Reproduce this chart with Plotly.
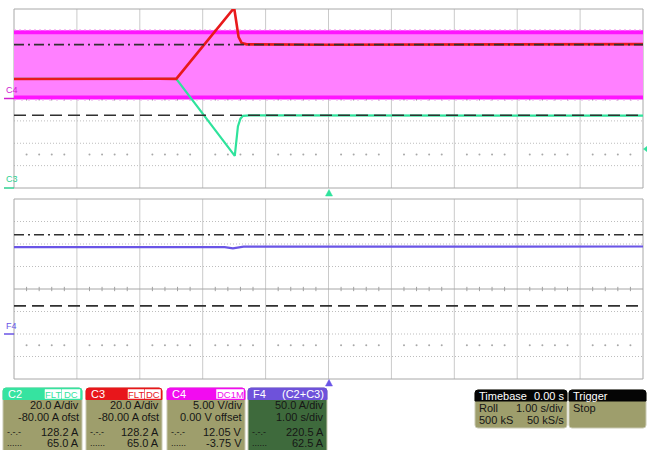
import plotly.graph_objects as go

W, H = 647, 450

# ---------------- data ----------------
# time in seconds (1 s/div, 10 divisions)
t_c3 = [0.0, 0.6, 1.2, 1.8, 2.3, 2.58, 3.50, 3.53, 3.57, 3.62, 3.70, 5.0, 6.5, 8.0, 9.0, 10.0]
c3_amps = [97.4, 97.6, 97.3, 97.5, 97.6, 97.5, 161.0, 150.0, 135.0, 129.5, 128.4, 128.1, 128.3, 128.5, 128.6, 128.6]

t_c2 = [0.0, 2.58, 3.51, 3.54, 3.56, 3.60, 3.64, 3.75, 5.0, 7.0, 10.0]
c2_amps = [97.5, 97.5, 28.7, 45.0, 55.0, 62.0, 64.5, 64.9, 64.9, 64.8, 64.7]

t_c4 = [0.0, 10.0]
c4_high_v = [14.8, 14.8]
c4_low_v = [0.2, 0.2]

t_f4 = [0.0, 1.5, 3.0, 3.35, 3.48, 3.55, 3.65, 4.5, 7.0, 10.0]
f4_amps = [193.0, 193.2, 193.4, 193.0, 190.5, 192.0, 194.0, 194.2, 194.3, 194.4]

cursor_top = {"C2/C3": (128.2, 65.0), "C4": (12.05, -3.75)}
cursor_bottom = (220.5, 62.5)

boxes = [
    # name, header colour, tags, rows
    ("C2", "#36E3A0", ["FLT", "DC"], ["20.0 A/div", "-80.00 A ofst", "128.2 A", "65.0 A"]),
    ("C3", "#E8161B", ["FLT", "DC"], ["20.0 A/div", "-80.00 A ofst", "128.2 A", "65.0 A"]),
    ("C4", "#F20CF0", ["DC1M"], ["5.00 V/div", "0.00 V offset", "12.05 V", "-3.75 V"]),
    ("F4", "#6E52DA", ["(C2+C3)"], ["50.0 A/div", "1.00 s/div", "220.5 A", "62.5 A"]),
]
timebase_rows = [("Timebase", "0.00 s"), ("Roll", "1.00 s/div"), ("500 kS", "50 kS/s")]
trigger_rows = ["Trigger", "Stop"]

# ---------------- helpers ----------------
def PX(x):
    return x / W

def PY(y):
    return 1 - y / H

FONT = "Liberation Sans, Arial, sans-serif"

X0, X1 = 14, 643
TOP_Y0, TOP_Y1 = 9, 188
BOT_Y0, BOT_Y1 = 199, 379

fig = go.Figure()

# C4 band (base axis y, volts)
fig.add_trace(go.Scatter(x=t_c4, y=c4_low_v, xaxis="x", yaxis="y", mode="lines",
                         line=dict(color="#FF14FF", width=4), hoverinfo="skip"))
fig.add_trace(go.Scatter(x=t_c4, y=c4_high_v, xaxis="x", yaxis="y", mode="lines",
                         line=dict(color="#FF14FF", width=4), fill="tonexty",
                         fillcolor="#FF80FF", hoverinfo="skip"))
# faint noise specks around the band edges
fig.add_trace(go.Scatter(x=t_c4, y=[c4_high_v[0] + 0.55] * 2, xaxis="x", yaxis="y", mode="lines",
                         line=dict(color="#F4A8F4", width=1, dash="2px,3px"), hoverinfo="skip"))
fig.add_trace(go.Scatter(x=t_c4, y=[c4_low_v[0] - 0.55] * 2, xaxis="x", yaxis="y", mode="lines",
                         line=dict(color="#E8B0E8", width=1, dash="2px,5px"), hoverinfo="skip"))

# C2 (green) and C3 (red) on overlaying axis y3 (amps)
fig.add_trace(go.Scatter(x=t_c2, y=c2_amps, xaxis="x", yaxis="y3", mode="lines",
                         line=dict(color="#2FE39C", width=2.2), hoverinfo="skip"))
fig.add_trace(go.Scatter(x=t_c3, y=c3_amps, xaxis="x", yaxis="y3", mode="lines",
                         line=dict(color="#E8191B", width=2.6), hoverinfo="skip"))

# F4 on bottom panel
fig.add_trace(go.Scatter(x=t_f4, y=f4_amps, xaxis="x2", yaxis="y2", mode="lines",
                         line=dict(color="#6A55E6", width=2.2), hoverinfo="skip"))

# dot rows at -2.5 div in both panels
dot_x = [i * 0.2 for i in range(1, 50) if i % 5 != 0]
fig.add_trace(go.Scatter(x=dot_x, y=[-12.5] * len(dot_x), xaxis="x", yaxis="y", mode="markers",
                         marker=dict(color="#A8A8A8", size=2), hoverinfo="skip"))
fig.add_trace(go.Scatter(x=dot_x, y=[-25] * len(dot_x), xaxis="x2", yaxis="y2", mode="markers",
                         marker=dict(color="#A8A8A8", size=2), hoverinfo="skip"))

shapes = []
annotations = []

# ---------------- grid ----------------
for xr, yr in (("x", "y"), ("x2", "y2")):
    xd, yd = xr + " domain", yr + " domain"
    for i in range(1, 10):
        shapes.append(dict(type="line", xref=xd, yref=yd, x0=i / 10, x1=i / 10, y0=0, y1=1,
                           line=dict(color="#CACACA", width=1), layer="below"))
    for j in range(1, 8):
        if j == 4:
            continue
        shapes.append(dict(type="line", xref=xd, yref=yd, x0=0, x1=1, y0=j / 8, y1=j / 8,
                           line=dict(color="#BDBDBD", width=1, dash="1px,2px"), layer="below"))
    shapes.append(dict(type="line", xref=xd, yref=yd, x0=0, x1=1, y0=0.5, y1=0.5,
                       line=dict(color="#A6A6A6", width=1), layer="below"))
    for k in range(1, 50):
        if k % 5 == 0:
            continue
        shapes.append(dict(type="line", xref=xd, yref=yd, x0=k / 50, x1=k / 50,
                           y0=0.5 - 0.012, y1=0.5 + 0.012,
                           line=dict(color="#A0A0A0", width=1), layer="below"))
    shapes.append(dict(type="rect", xref=xd, yref=yd, x0=0, x1=1, y0=0, y1=1,
                       line=dict(color="#A8A8A8", width=1), layer="below"))

# ---------------- cursors ----------------
DASHDOT = "10px,4px,2px,4px"
DASHED = "12px,6px"
c_hi, c_lo = cursor_top["C2/C3"]
shapes.append(dict(type="line", xref="x domain", yref="y3", x0=0, x1=1, y0=c_hi, y1=c_hi,
                   line=dict(color="#303030", width=1.6, dash=DASHDOT), layer="above"))
shapes.append(dict(type="line", xref="x domain", yref="y3", x0=0, x1=1, y0=c_lo, y1=c_lo,
                   line=dict(color="#303030", width=1.6, dash=DASHED), layer="above"))
shapes.append(dict(type="line", xref="x2 domain", yref="y2", x0=0, x1=1,
                   y0=cursor_bottom[0], y1=cursor_bottom[0],
                   line=dict(color="#303030", width=1.6, dash=DASHDOT), layer="above"))
shapes.append(dict(type="line", xref="x2 domain", yref="y2", x0=0, x1=1,
                   y0=cursor_bottom[1], y1=cursor_bottom[1],
                   line=dict(color="#303030", width=1.6, dash=DASHED), layer="above"))

# ---------------- markers (triangles) ----------------
def tri(pts, color):
    p = "M " + " L ".join(f"{PX(x)},{PY(y)}" for x, y in pts) + " Z"
    shapes.append(dict(type="path", xref="paper", yref="paper", path=p,
                       fillcolor=color, line=dict(color=color, width=0.5), layer="above"))

tri([(325.5, 196), (332.5, 196), (329, 189.5)], "#2FE39C")
tri([(325.5, 386), (332.5, 386), (329, 379.5)], "#6A55E6")
tri([(643.5, 149), (648, 145.5), (648, 152.5)], "#2FE39C")

# ---------------- ground labels ----------------
def ground_label(text, y_line, color):
    shapes.append(dict(type="line", xref="paper", yref="paper", x0=PX(4), x1=PX(14),
                       y0=PY(y_line), y1=PY(y_line), line=dict(color=color, width=1.5)))
    annotations.append(dict(text=text, xref="paper", yref="paper", x=PX(3.5), y=PY(y_line - 1.5),
                            xanchor="left", yanchor="bottom", showarrow=False,
                            font=dict(family=FONT, size=9, color=color)))

ground_label("C4", 98.5, "#D020D0")
ground_label("C3", 188, "#2FD090")
ground_label("F4", 334, "#6A55E6")

# ---------------- info boxes ----------------
def rrect(x0, y0, x1, y1, r, fill, line_color=None, top_only=False):
    rx = r
    if top_only:
        pts = (f"M {PX(x0)},{PY(y1)} L {PX(x0)},{PY(y0 + rx)} Q {PX(x0)},{PY(y0)} {PX(x0 + rx)},{PY(y0)} "
               f"L {PX(x1 - rx)},{PY(y0)} Q {PX(x1)},{PY(y0)} {PX(x1)},{PY(y0 + rx)} L {PX(x1)},{PY(y1)} Z")
    else:
        pts = (f"M {PX(x0)},{PY(y1 - rx)} L {PX(x0)},{PY(y0 + rx)} Q {PX(x0)},{PY(y0)} {PX(x0 + rx)},{PY(y0)} "
               f"L {PX(x1 - rx)},{PY(y0)} Q {PX(x1)},{PY(y0)} {PX(x1)},{PY(y0 + rx)} "
               f"L {PX(x1)},{PY(y1 - rx)} Q {PX(x1)},{PY(y1)} {PX(x1 - rx)},{PY(y1)} "
               f"L {PX(x0 + rx)},{PY(y1)} Q {PX(x0)},{PY(y1)} {PX(x0)},{PY(y1 - rx)} Z")
    shapes.append(dict(type="path", xref="paper", yref="paper", path=pts, fillcolor=fill,
                       line=dict(color=line_color or fill, width=1), layer="above"))

def txt(x, y, s, anchor="left", color="#161616", size=11):
    annotations.append(dict(text=s, xref="paper", yref="paper", x=PX(x), y=PY(y),
                            xanchor=anchor, yanchor="middle", showarrow=False,
                            font=dict(family=FONT, size=size, color=color)))

OLIVE = "#9E9E6C"
box_x = [(3, 82), (86, 162), (167, 245), (248, 327)]
row_y = [405, 417, 432, 443]
tag_spans = [
    [(45, 61), (62, 80)],
    [(128, 144), (145, 160.5)],
    [(216.5, 243.5)],
]
for bi, (name, hcol, tags, rows) in enumerate(boxes):
    x0, x1 = box_x[bi]
    body = "#3E6A3C" if name == "F4" else OLIVE
    rrect(x0, 388, x1, 453, 3, body, "#C9C9B2")
    rrect(x0, 388, x1, 399.5, 3, hcol, hcol, top_only=True)
    txt(x0 + 3, 394, name, "left", "white", 11)
    if name == "F4":
        txt(x1 - 1.5, 394, tags[0], "right", "white", 11)
    else:
        for (tx0, tx1), tg in zip(tag_spans[bi], tags):
            shapes.append(dict(type="rect", xref="paper", yref="paper", x0=PX(tx0), x1=PX(tx1),
                               y0=PY(398.5), y1=PY(389.5), fillcolor="white",
                               line=dict(color="white", width=0.5), layer="above"))
            txt((tx0 + tx1) / 2, 394.2, tg, "center", hcol, 9.5)
            annotations[-1]["xanchor"] = "center"
    txt(x1 - 1.5, row_y[0], rows[0], "right")
    txt(x1 - 1.5, row_y[1], rows[1], "right")
    txt(x1 - 1.5, row_y[2], rows[2], "right")
    txt(x1 - 1.5, row_y[3], rows[3], "right")
    txt(x0 + 2, row_y[2], "-.-.-", "left", "#161616", 9)
    txt(x0 + 2, row_y[3], "......", "left", "#161616", 9)

# timebase box
rrect(475, 390, 567, 428, 3, OLIVE, "#C9C9B2")
rrect(475, 390, 567, 401, 3, "#050505", "#050505", top_only=True)
txt(477, 395.5, timebase_rows[0][0], "left", "white")
txt(566, 395.5, timebase_rows[0][1], "right", "white")
txt(477, 408, timebase_rows[1][0], "left")
txt(566, 408, timebase_rows[1][1], "right")
txt(477, 419.5, timebase_rows[2][0], "left")
txt(566, 419.5, timebase_rows[2][1], "right")
# trigger box
rrect(569, 390, 646, 428, 3, OLIVE, "#C9C9B2")
rrect(569, 390, 646, 401, 3, "#050505", "#050505", top_only=True)
txt(571, 395.5, trigger_rows[0], "left", "white")
txt(571, 408, trigger_rows[1], "left")

# ---------------- layout ----------------
ax_common = dict(visible=False, showgrid=False, zeroline=False, fixedrange=True)
fig.update_layout(
    width=W, height=H, margin=dict(l=0, r=0, t=0, b=0),
    paper_bgcolor="white", plot_bgcolor="white", showlegend=False,
    xaxis=dict(domain=[PX(X0), PX(X1)], range=[0, 10], anchor="y", **ax_common),
    yaxis=dict(domain=[PY(TOP_Y1), PY(TOP_Y0)], range=[-20, 20], anchor="x", **ax_common),
    yaxis3=dict(range=[0, 160], overlaying="y", anchor="x", **ax_common),
    xaxis2=dict(domain=[PX(X0), PX(X1)], range=[0, 10], anchor="y2", **ax_common),
    yaxis2=dict(domain=[PY(BOT_Y1), PY(BOT_Y0)], range=[-100, 300], anchor="x2", **ax_common),
    shapes=shapes, annotations=annotations,
)

fig.write_html("out.html")
